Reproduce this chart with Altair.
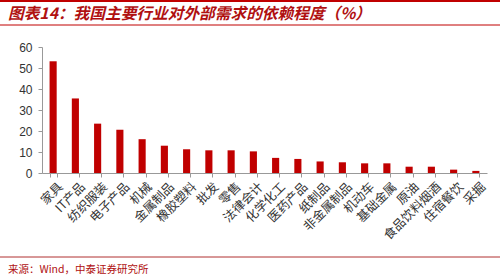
import altair as alt
import pandas as pd

categories = ["家具", "IT产品", "纺织服装", "电子产品", "机械", "金属制品", "橡胶塑料", "批发", "零售",
              "法律会计", "化学化工", "医药产品", "纸制品", "非金属制品", "机动车", "基础金属", "原油",
              "食品饮料烟酒", "住宿餐饮", "采掘"]
values = [53.2, 35.5, 23.5, 20.6, 16.1, 13.0, 11.3, 10.8, 10.8,
          10.3, 7.2, 6.7, 5.5, 5.1, 4.6, 4.6, 3.0, 3.0, 1.6, 1.0]
y_ticks = [0, 10, 20, 30, 40, 50, 60]
title_text = "图表14：我国主要行业对外部需求的依赖程度（%）"
source_text = "来源：Wind，中泰证券研究所"

df = pd.DataFrame({"cat": categories, "val": values})
RED = "#c00000"
CJK = "Noto Sans CJK SC"

bars = alt.Chart(df).mark_bar(color=RED).encode(
    x=alt.X("cat:N", sort=categories,
            scale=alt.Scale(paddingInner=0.68, paddingOuter=0.34),
            axis=alt.Axis(title=None, labelAngle=-45, labelFont=CJK, labelFontSize=12.5,
                          labelColor="#333333", domainColor="#999999", tickColor="#999999",
                          tickBand="extent", tickSize=4, labelPadding=3, labelOffset=3)),
    y=alt.Y("val:Q", scale=alt.Scale(domain=[0, 60], nice=False),
            axis=alt.Axis(title=None, values=y_ticks, grid=False, labelFont="Liberation Sans",
                          labelFontSize=12, labelColor="#333333", domainColor="#999999",
                          tickColor="#999999", tickSize=4, labelPadding=6)),
)

deco = pd.DataFrame({"k": [0]})
title = alt.Chart(deco).mark_text(text=title_text, font=CJK, fontSize=15.7, fontWeight="bold",
                                  fontStyle="italic", color="#b01010", align="left",
                                  baseline="middle").encode(x=alt.value(-34), y=alt.value(-33))
source = alt.Chart(deco).mark_text(text=source_text, font=CJK, fontSize=10.5, color="#b01010",
                                   align="left", baseline="middle").encode(x=alt.value(-34), y=alt.value(223))
line_top = alt.Chart(deco).mark_rule(color=RED, strokeWidth=2).encode(
    x=alt.value(-42), x2=alt.value(458), y=alt.value(-46))
line_mid = alt.Chart(deco).mark_rule(color=RED, strokeWidth=1).encode(
    x=alt.value(-42), x2=alt.value(458), y=alt.value(-22))
line_bot = alt.Chart(deco).mark_rule(color="#b03030", strokeWidth=1).encode(
    x=alt.value(-42), x2=alt.value(458), y=alt.value(210))

chart = alt.layer(bars, title, source, line_top, line_mid, line_bot).properties(
    width=445, height=126,
    autosize=alt.AutoSizeParams(type="none"),
    padding={"left": 42, "top": 47, "right": 13, "bottom": 105},
    background="white",
).configure_view(stroke=None)

chart.save("out.html", embed_options={"renderer": "svg", "actions": False})
